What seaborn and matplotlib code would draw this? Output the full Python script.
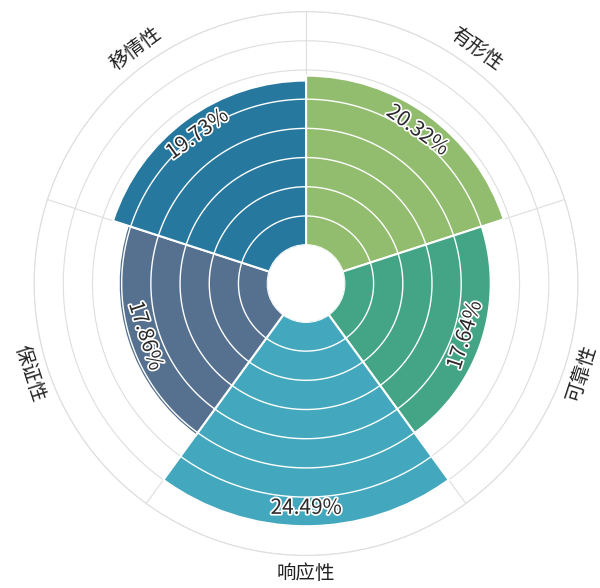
import numpy as np
import pandas as pd
import matplotlib
matplotlib.use("Agg")
import matplotlib.pyplot as plt
import matplotlib.patheffects as pe
import seaborn as sns

# Service-quality dimensions (clockwise from the top) and their shares in %
categories = ["有形性", "可靠性", "响应性", "保证性", "移情性"]
shares = [20.32, 17.64, 24.49, 17.86, 19.73]
colors = ["#93bd6e", "#43a585", "#43a8be", "#55718f", "#26789f"]

sns.set_theme(style="white")
plt.rcParams["font.family"] = ["Noto Sans CJK SC", "DejaVu Sans"]

n = len(categories)
step = 2 * np.pi / n
centers = np.arange(n) * step + step / 2
df = pd.DataFrame({"angle": centers, "share": shares, "category": categories})

fig = plt.figure(figsize=(6.0, 5.88), dpi=100)
ax = fig.add_axes([0.0567, 0.0553, 0.9067, 0.925], projection="polar")
ax.set_theta_zero_location("N")
ax.set_theta_direction(-1)

rings = np.arange(0, 28.01, 3.5)

sns.barplot(data=df, x="angle", y="share", hue="category", hue_order=categories,
            palette=colors, saturation=1, native_scale=True, width=1.0,
            dodge=False, errorbar=None, legend=False, edgecolor="white",
            linewidth=1.5, ax=ax, zorder=2)

ax.set_ylim(0, 28)
ax.set_rorigin(-4.6)
ax.set_xlabel("")
ax.set_ylabel("")

# background grid: rings and sector spokes
ax.set_xticks(np.arange(n) * step)
ax.set_xticklabels([])
ax.set_yticks(rings[1:])
ax.set_yticklabels([])
ax.grid(True, color="#dedede", linewidth=0.8)
ax.set_axisbelow(True)
ax.patch.set_edgecolor("none")
ax.spines["polar"].set_color("#dedede")
ax.spines["polar"].set_linewidth(0.8)
ax.spines["inner"].set_color("none")
ax.spines["inner"].set_linewidth(0)
ax.spines["inner"].set_visible(False)

# white rings drawn across each sector
for c, v in zip(centers, shares):
    th = np.linspace(c - step / 2, c + step / 2, 80)
    for r in rings[1:]:
        if r < v:
            ax.plot(th, np.full_like(th, r), color="white", linewidth=1.0, zorder=3)


def tangent_rotation(theta):
    deg = np.degrees(theta)
    if 90 < deg < 270:
        return 180 - deg
    return -deg


outline = [pe.withStroke(linewidth=2.5, foreground="white")]
for c, v, name in zip(centers, shares, categories):
    rot = tangent_rotation(c)
    ax.text(c, v - 2.2, f"{v:.2f}%", rotation=rot, rotation_mode="anchor",
            ha="center", va="center", fontsize=15, color="#2a2a2a",
            path_effects=outline, zorder=5)
    ax.text(c, 30.2, name, rotation=rot, rotation_mode="anchor",
            ha="center", va="center", fontsize=14, color="#222222",
            clip_on=False, zorder=5)

fig.savefig("out.png", dpi=100, facecolor="white")
